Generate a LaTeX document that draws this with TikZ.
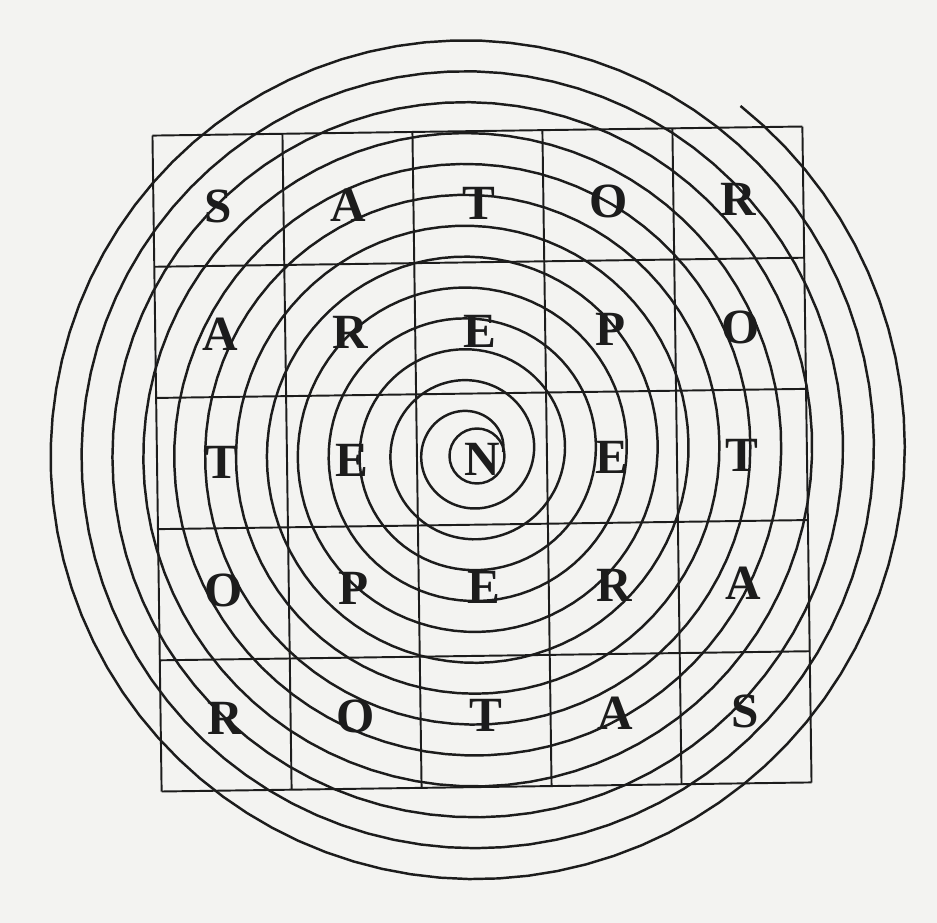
\documentclass[tikz,border=0pt]{standalone}
\usepackage{fontspec}
\setmainfont{Liberation Serif}
\usepackage{tikz}
\usetikzlibrary{positioning}
\definecolor{paper}{RGB}{243,243,241}
\definecolor{ink}{RGB}{28,28,28}

\begin{document}
\begin{tikzpicture}[
  gridline/.style={draw=ink,line width=0.55pt},
  spiralline/.style={draw=ink,line width=0.7pt},
  letter/.style={font=\fontsize{14}{16}\selectfont\bfseries,text=ink,inner sep=0pt}
]
  \fill[paper] (0,0) rectangle (9.37,-9.23);
  \useasboundingbox (0,0) rectangle (9.37,-9.23);

  % the square, a little turned as in the scan
  \begin{scope}[shift={(4.82,-4.59)},rotate=0.8,shift={(-3.25,-3.28)}]
    \foreach \i in {0,...,5} {
      \draw[gridline] (\i*1.3,0) -- (\i*1.3,6.56);
      \draw[gridline] (0,\i*1.312) -- (6.5,\i*1.312);
    }
    \foreach \word [count=\r] in {{S,A,T,O,R},{A,R,E,P,O},{T,E,N,E,T},{O,P,E,R,A},{R,O,T,A,S}} {
      \foreach \ch [count=\c] in \word {
        \node[letter] (sq-\r-\c) at ({(\c-0.5)*1.3},{3.28+(3-\r)*1.28}) {\ch};
      }
    }
  \end{scope}

  % ring round the N
  \node[draw=ink,line width=0.7pt,circle,minimum size=0.55cm,inner sep=0pt] (ring) at (4.77,-4.56) {};

  % spiral
  \draw[spiralline] plot[domain=-360:4372,samples=1200,variable=\t]
    ({4.70+(0.64+0.309*\t/360)*cos(\t)},{-4.52+(0.64+0.309*\t/360)*sin(\t)});
\end{tikzpicture}
\end{document}
